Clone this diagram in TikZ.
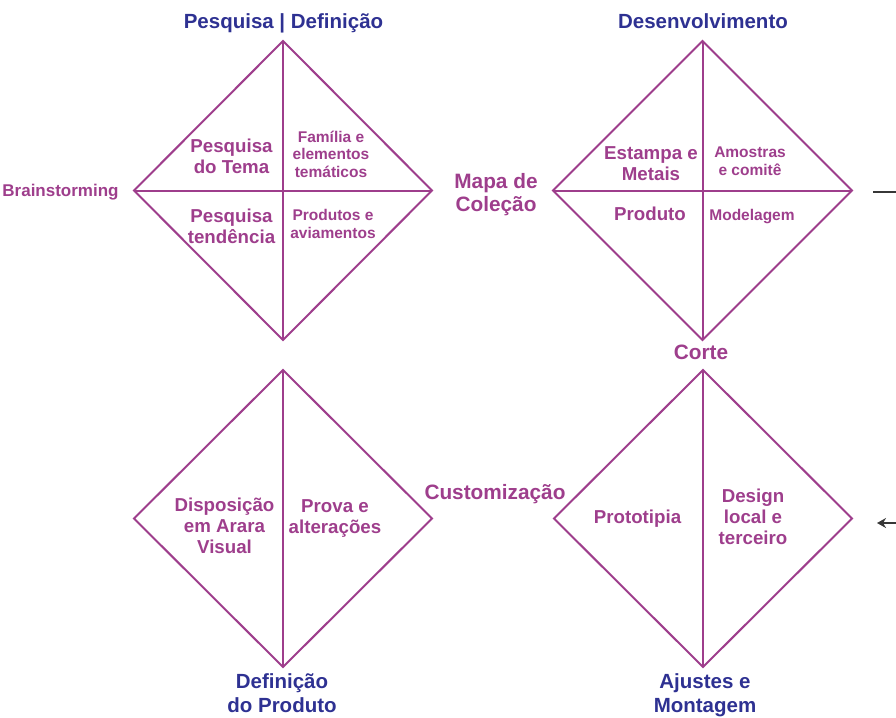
\documentclass[tikz,border=0pt]{standalone}
\usepackage{fontspec}
\setmainfont{Liberation Sans}
\usetikzlibrary{arrows.meta}
\definecolor{plum}{RGB}{158,62,140}
\definecolor{navy}{RGB}{46,49,146}
\definecolor{leadgray}{RGB}{55,55,55}
\begin{document}
\begin{tikzpicture}[x=1pt,y=-1pt,
  edge/.style={draw=plum,line width=2pt,line join=miter},
  big/.style={text=plum,font=\bfseries\fontsize{18.7}{21}\selectfont,align=center,inner sep=0pt,anchor=base},
  small/.style={text=plum,font=\bfseries\fontsize{15.5}{17.5}\selectfont,align=center,inner sep=0pt,anchor=base},
  stage/.style={text=plum,font=\bfseries\fontsize{20.8}{23}\selectfont,align=center,inner sep=0pt,anchor=base},
  heading/.style={text=navy,font=\bfseries\fontsize{20.5}{23.5}\selectfont,align=center,inner sep=0pt,anchor=base},
  lead/.style={draw=leadgray,line width=2pt}]
\useasboundingbox (0,0) rectangle (896,717);

% ---- diamond vertices
\coordinate (d1t) at (283,41);  \coordinate (d1r) at (432,190.5);
\coordinate (d1b) at (283,340); \coordinate (d1l) at (134,190.5);
\coordinate (d2t) at (702.5,41);  \coordinate (d2r) at (852,190.5);
\coordinate (d2b) at (702.5,340); \coordinate (d2l) at (553,190.5);
\coordinate (d3t) at (283,370);  \coordinate (d3r) at (432,518.5);
\coordinate (d3b) at (283,667);  \coordinate (d3l) at (134,518.5);
\coordinate (d4t) at (703,370);  \coordinate (d4r) at (852,518.5);
\coordinate (d4b) at (703,667);  \coordinate (d4l) at (554,518.5);

% ---- outlines and dividers
\draw[edge] (d1t) -- (d1r) -- (d1b) -- (d1l) -- cycle;
\draw[edge] (d1t) -- (d1b); \draw[edge] (d1l) -- (d1r);
\draw[edge] (d2t) -- (d2r) -- (d2b) -- (d2l) -- cycle;
\draw[edge] (d2t) -- (d2b); \draw[edge] (d2l) -- (d2r);
\draw[edge] (d3t) -- (d3r) -- (d3b) -- (d3l) -- cycle;
\draw[edge] (d3t) -- (d3b);
\draw[edge] (d4t) -- (d4r) -- (d4b) -- (d4l) -- cycle;
\draw[edge] (d4t) -- (d4b);

% ---- headings (anchors sit on the last line's baseline)
\node[heading] (h1) at (283.5,29) {Pesquisa | Definição};
\node[heading] (h2) at (703,29) {Desenvolvimento};
\node[heading] (h3) at (282,712) {Definição\\do Produto};
\node[heading] (h4) at (705,712) {Ajustes e\\Montagem};

% ---- stage labels between diamonds
\node[big,font=\bfseries\fontsize{17}{21}\selectfont] (brain) at (60.5,196) {Brainstorming};
\node[stage] (mapa) at (496,211) {Mapa de\\Coleção};
\node[stage] (corte) at (701,359) {Corte};
\node[stage] (cust) at (495,499) {Customização};

% ---- first diamond
\node[big] (q1a) at (231.5,173) {Pesquisa\\do Tema};
\node[small] (q1b) at (331,177) {Família e\\elementos\\temáticos};
\node[big] (q1c) at (231.5,243) {Pesquisa\\tendência};
\node[small] (q1d) at (333,238) {Produtos e\\aviamentos};

% ---- second diamond
\node[big] (q2a) at (651,180) {Estampa e\\Metais};
\node[small] (q2b) at (750,175) {Amostras\\e comitê};
\node[big] (q2c) at (650,220) {Produto};
\node[small] (q2d) at (752,220) {Modelagem};

% ---- third diamond
\node[big] (q3a) at (224.5,553) {Disposição\\em Arara\\Visual};
\node[big] (q3b) at (335,533) {Prova e\\alterações};

% ---- fourth diamond
\node[big] (q4a) at (637.5,523) {Prototipia};
\node[big] (q4b) at (753,544) {Design\\local e\\terceiro};

% ---- leads running off the right edge
\coordinate (out1) at (873,192); \coordinate (out1e) at (896,192);
\draw[lead] (out1) -- (out1e);
\coordinate (in2) at (896,523); \coordinate (in2e) at (877,523);
\draw[lead,-{Stealth[length=9pt,width=10pt]}] (in2) -- (in2e);
\end{tikzpicture}
\end{document}
